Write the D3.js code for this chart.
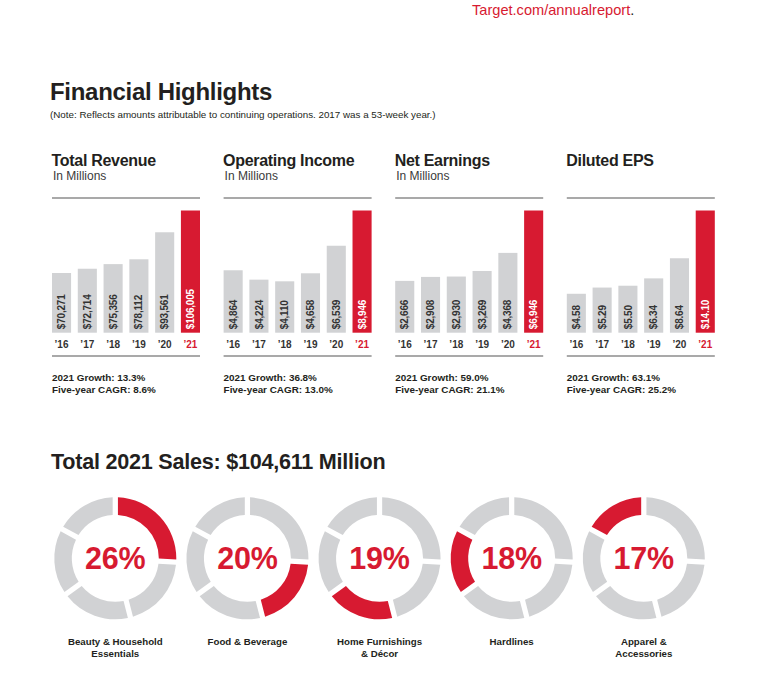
<!DOCTYPE html>
<html>
<head>
<meta charset="utf-8">
<script src="https://cdn.jsdelivr.net/npm/d3@7"></script>
<style>
  html, body { margin: 0; padding: 0; background: #ffffff; }
  svg { display: block; font-family: "Liberation Sans", Arial, Helvetica, sans-serif; }
</style>
</head>
<body>
<svg id="chart" width="768" height="686"></svg>
<script>
// ---------------- DATA ----------------
const years = ["\u201916", "\u201917", "\u201918", "\u201919", "\u201920", "\u201921"];
const panelTitles = ["Total Revenue", "Operating Income", "Net Earnings", "Diluted EPS"];
const panelUnits = ["In Millions", "In Millions", "In Millions", ""];
const totalRevenue = [70271, 72714, 75356, 78112, 93561, 106005];
const operatingIncome = [4864, 4224, 4110, 4658, 6539, 8946];
const netEarnings = [2666, 2908, 2930, 3269, 4368, 6946];
const dilutedEPS = [4.58, 5.29, 5.50, 6.34, 8.64, 14.10];
const axisFloors = [36145, 601, -485, 0.13];   // value-axis minimum per panel (bars are not zero-based)
const growth2021 = ["13.3%", "36.8%", "59.0%", "63.1%"];
const fiveYearCAGR = ["8.6%", "13.0%", "21.1%", "25.2%"];

const salesTitle = "Total 2021 Sales: $104,611 Million";
const categoryLines = [["Beauty & Household", "Essentials"], ["Food & Beverage"], ["Home Furnishings", "& D\u00e9cor"], ["Hardlines"], ["Apparel &", "Accessories"]];
const salesShare = [26, 20, 19, 18, 17];

// ---------------- STYLE ----------------
const RED = "#d71a31";
const GRAY = "#d1d2d4";
const RULE = "#8c8c8c";
const INK = "#231f20";

const svg = d3.select("#chart");
svg.append("rect").attr("width", 768).attr("height", 686).attr("fill", "#fff");

// Header link
const link = svg.append("text").attr("x", 472).attr("y", 15)
  .attr("font-size", 14.6).attr("fill", RED);
link.append("tspan").text("Target.com/annualreport");
link.append("tspan").attr("fill", INK).text(".");

svg.append("text").attr("x", 50).attr("y", 99.5)
  .attr("font-size", 24).attr("font-weight", "bold").attr("letter-spacing", -0.3)
  .attr("fill", INK).text("Financial Highlights");

svg.append("text").attr("x", 50).attr("y", 117.5)
  .attr("font-size", 9.8).attr("fill", INK)
  .text("(Note: Reflects amounts attributable to continuing operations. 2017 was a 53-week year.)");

// ---------------- BAR PANELS ----------------
const panelData = [totalRevenue, operatingIncome, netEarnings, dilutedEPS];
const formats = [d3.format("$,"), d3.format("$,"), d3.format("$,"), d3.format("$.2f")];
const panelX0 = 52, panelStep = 171.6, panelW = 148;
const baseY = 332.7, topY = 210.5, ruleTop = 198, ruleBottom = 356;

panelData.forEach((vals, p) => {
  const x0 = panelX0 + p * panelStep;
  const g = svg.append("g");
  const x = d3.scaleBand().domain(years).range([x0, x0 + panelW]).paddingInner(0.26).paddingOuter(0);
  const y = d3.scaleLinear().domain([axisFloors[p], d3.max(vals)]).range([baseY, topY]);
  const last = years.length - 1;

  g.append("text").attr("x", x0 - 0.5).attr("y", 166)
    .attr("font-size", 16).attr("font-weight", "bold").attr("letter-spacing", -0.3)
    .attr("fill", INK).text(panelTitles[p]);
  if (panelUnits[p]) {
    g.append("text").attr("x", x0 + 1).attr("y", 180)
      .attr("font-size", 12).attr("fill", "#3a3a3a").text(panelUnits[p]);
  }

  g.append("line").attr("x1", x0).attr("x2", x0 + panelW).attr("y1", ruleTop).attr("y2", ruleTop)
    .attr("stroke", RULE).attr("stroke-width", 1.6);
  g.append("line").attr("x1", x0).attr("x2", x0 + panelW).attr("y1", ruleBottom).attr("y2", ruleBottom)
    .attr("stroke", RULE).attr("stroke-width", 1.6);

  g.selectAll("rect.bar").data(vals).join("rect").attr("class", "bar")
    .attr("x", (d, i) => x(years[i]))
    .attr("width", x.bandwidth())
    .attr("y", d => y(d))
    .attr("height", d => baseY - y(d))
    .attr("fill", (d, i) => i === last ? RED : GRAY);

  g.selectAll("text.val").data(vals).join("text").attr("class", "val")
    .attr("transform", (d, i) => `translate(${x(years[i]) + x.bandwidth() / 2 + 3.6},${baseY - 3.5}) rotate(-90)`)
    .attr("font-size", 10).attr("font-weight", "bold").attr("letter-spacing", -0.2)
    .attr("fill", (d, i) => i === last ? "#ffffff" : "#333333")
    .text(d => formats[p](d));

  // category axis (years)
  const axis = d3.axisBottom(x).tickSize(0).tickPadding(0);
  const ax = g.append("g").attr("transform", `translate(0,${baseY})`).call(axis);
  ax.select(".domain").remove();
  ax.selectAll("text")
    .attr("dy", null).attr("y", 15)
    .attr("font-family", "Liberation Sans, Arial, sans-serif")
    .attr("font-size", 10).attr("font-weight", "bold")
    .attr("fill", (d, i) => i === last ? RED : "#333333");

  g.append("text").attr("x", x0).attr("y", 381)
    .attr("font-size", 9.9).attr("font-weight", "bold").attr("fill", INK)
    .text("2021 Growth: " + growth2021[p]);
  g.append("text").attr("x", x0).attr("y", 393)
    .attr("font-size", 9.9).attr("font-weight", "bold").attr("fill", INK)
    .text("Five-year CAGR: " + fiveYearCAGR[p]);
});

// ---------------- SALES DONUTS ----------------
svg.append("text").attr("x", 51).attr("y", 468.5)
  .attr("font-size", 21.6).attr("font-weight", "bold").attr("letter-spacing", -0.25)
  .attr("fill", INK).text(salesTitle);

const pie = d3.pie().sort(null).value(d => d).startAngle(0).endAngle(2 * Math.PI);
const arcs = pie(salesShare);
const arc = d3.arc().innerRadius(43.5).outerRadius(61).padAngle(0.07);
const donutX = d3.scalePoint().domain(d3.range(salesShare.length)).range([115.3, 643.8]);
const donutCY = 558.3;

salesShare.forEach((share, k) => {
  const g = svg.append("g").attr("transform", `translate(${donutX(k)},${donutCY})`);
  g.selectAll("path").data(arcs).join("path")
    .attr("d", arc)
    .attr("fill", (d, i) => i === k ? RED : GRAY);
  g.append("text").attr("x", 0).attr("y", 11)
    .attr("text-anchor", "middle")
    .attr("font-size", 30.5).attr("font-weight", "bold").attr("letter-spacing", -0.2)
    .attr("fill", RED).text(share + "%");
  const lbl = g.append("text").attr("text-anchor", "middle")
    .attr("font-size", 9.7).attr("font-weight", "bold").attr("fill", INK);
  categoryLines[k].forEach((line, j) => {
    lbl.append("tspan").attr("x", 0).attr("y", 86.5 + j * 12.2).text(line);
  });
});
</script>
</body>
</html>
